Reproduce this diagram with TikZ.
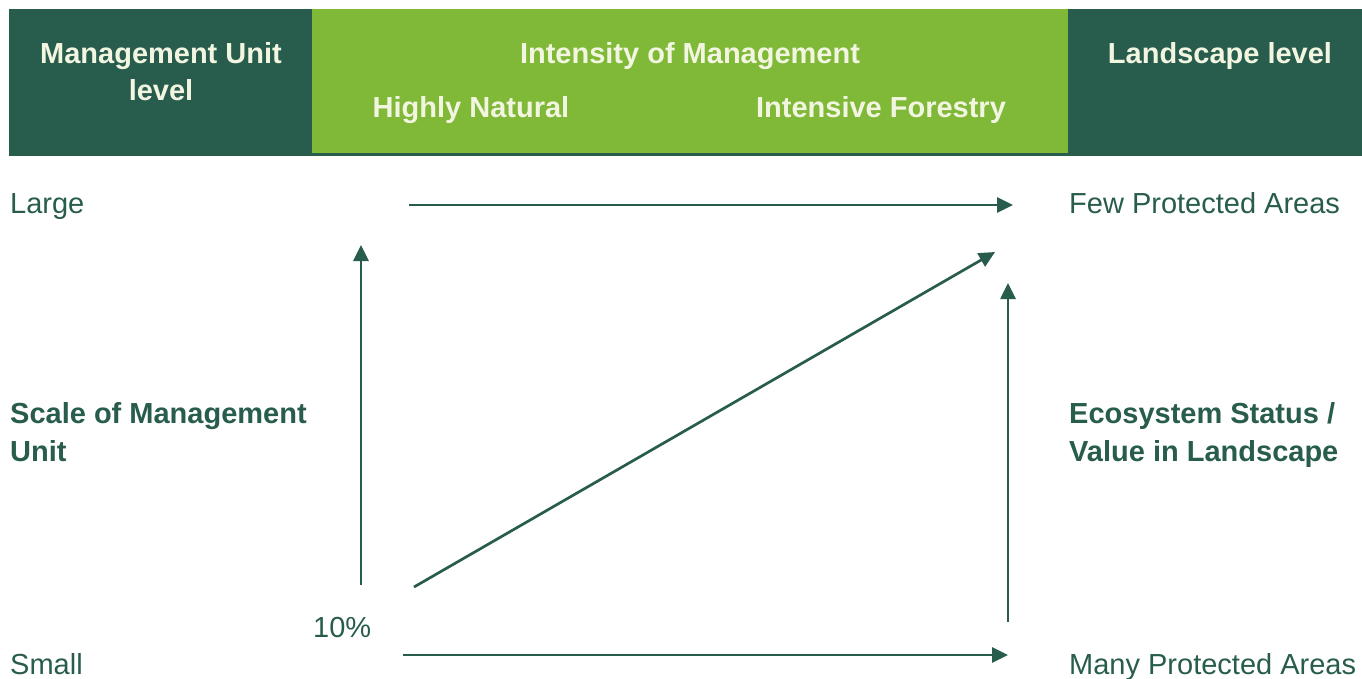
\documentclass[tikz,border=0pt]{standalone}
\usepackage{fontspec}
\setmainfont{Liberation Sans}
\usepackage{tikz}
\usetikzlibrary{positioning,arrows.meta}
\definecolor{darkgreen}{HTML}{285C4D}
\definecolor{lightgreen}{HTML}{80B838}
\definecolor{cream}{HTML}{F2F6E1}

\begin{document}
\begin{tikzpicture}[x=1pt,y=-1pt,
    hdr/.style={font=\fontsize{29}{37}\selectfont\bfseries,text=cream,inner sep=0pt,align=center},
    lbl/.style={font=\fontsize{29}{38}\selectfont,text=darkgreen,inner sep=0pt,align=left},
    arr/.style={draw=darkgreen,line width=2.7pt,-{Triangle[length=16pt,width=15pt]}}]
      \useasboundingbox (0,0) rectangle (1362,678);
      %header
      \fill[darkgreen] (9,9) rectangle (1362,156);
      \fill[lightgreen] (312,9) rectangle (1068,153);
      \node[hdr,anchor=north] (mu) at (161,42) {Management Unit\\level};
      \node[hdr,anchor=base] (int) at (690,63) {Intensity of Management};
      \node[hdr,anchor=base] (nat) at (471,117) {Highly Natural};
      \node[hdr,anchor=base] (forest) at (881,117) {Intensive Forestry};
      \node[hdr,anchor=base] (land) at (1220,63) {Landscape level};

      %labels
      \node[lbl,anchor=base west] (large) at (10,213) {Large};
      \node[lbl,anchor=base west] (few) at (1069,213) {Few Protected Areas};
      \node[lbl,anchor=north west,font=\fontsize{29}{38}\selectfont\bfseries] (scale) at (10,402) {Scale of Management\\Unit};
      \node[lbl,anchor=north west,font=\fontsize{29}{38}\selectfont\bfseries] (eco) at (1069,402) {Ecosystem Status /\\Value in Landscape};
      \node[lbl,anchor=base west] (pct) at (313,637) {10\%};
      \node[lbl,anchor=base west] (small) at (10,674) {Small};
      \node[lbl,anchor=base west] (many) at (1069,674) {Many Protected Areas};

      %arrows
      \coordinate (tops) at (409,205);
      \coordinate (tope) at (1013,205);
      \coordinate (lefts) at (361,585);
      \coordinate (lefte) at (361,245);
      \coordinate (diags) at (414,587);
      \coordinate (diage) at (995,252);
      \coordinate (rights) at (1008,622);
      \coordinate (righte) at (1008,283);
      \coordinate (bots) at (403,655);
      \coordinate (bote) at (1008,655);
      \draw[arr] (tops) -- (tope);
      \draw[arr] (lefts) -- (lefte);
      \draw[arr] (diags) -- (diage);
      \draw[arr] (rights) -- (righte);
      \draw[arr] (bots) -- (bote);
\end{tikzpicture}
\end{document}
